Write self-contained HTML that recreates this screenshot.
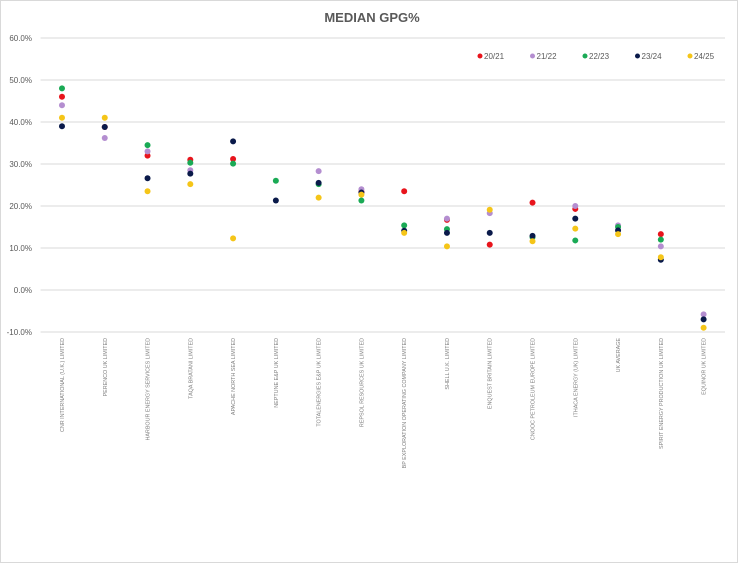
<!DOCTYPE html>
<html><head><meta charset="utf-8"><style>
html,body{margin:0;padding:0;background:#fff;}
svg{display:block;font-family:"Liberation Sans",sans-serif;}
</style></head><body>
<svg id="chart" width="744" height="564" viewBox="0 0 744 564">
<rect x="0.5" y="0.5" width="737" height="562" fill="#fff" stroke="#d9d9d9"/>
<text x="372" y="22" text-anchor="middle" font-size="13" font-weight="bold" fill="#595959">MEDIAN GPG%</text>
<g id="grid"></g><g id="yticks"></g><g id="xlabels"></g><g id="points"></g><g id="legend"></g>
</svg>
<script>
const categories=["CNR INTERNATIONAL (U.K.) LIMITED","PERENCO UK LIMITED","HARBOUR ENERGY SERVICES LIMITED","TAQA BRATANI LIMITED","APACHE NORTH SEA LIMITED","NEPTUNE E&P UK LIMITED","TOTALENERGIES E&P UK LIMITED","REPSOL RESOURCES UK LIMITED","BP EXPLORATION OPERATING COMPANY LIMITED","SHELL U.K. LIMITED","ENQUEST BRITAIN LIMITED","CNOOC PETROLEUM EUROPE LIMITED","ITHACA ENERGY (UK) LIMITED","UK AVERAGE","SPIRIT ENERGY PRODUCTION UK LIMITED","EQUINOR UK LIMITED"];
const seriesNames=["20/21","21/22","22/23","23/24","24/25"];
const seriesColors=["#e8141c","#b48ed0","#1aaa55","#0a1a4a","#f5c518"];
const s2021=[46,38.8,32,31,31.2,null,null,23.4,23.5,16.7,10.8,20.8,19.3,null,13.3,null];
const s2122=[44,36.2,33,28.5,null,null,28.3,24,null,17,18.3,null,20,15.4,10.4,-5.8];
const s2223=[48,null,34.5,30.3,30.1,26,25.2,21.3,15.4,14.5,null,12.6,11.8,15,12,null];
const s2324=[39,38.8,26.6,27.7,35.4,21.3,25.5,23.2,14.1,13.6,13.6,12.9,17,14.2,7.2,-7];
const s2425=[41,41,23.5,25.2,12.3,null,22,22.7,13.6,10.4,19.1,11.6,14.6,13.3,7.8,-9];
const yTicks=[60,50,40,30,20,10,0,-10];
const allSeries=[s2021,s2122,s2223,s2324,s2425];
const NS="http://www.w3.org/2000/svg";
const plotL=40.6,plotR=725,y0=290,pxPer=4.2;
const yPos=v=>y0-v*pxPer;
const band=(plotR-plotL)/categories.length;
const xPos=i=>plotL+band*(i+0.5);
function mk(t,parent,attrs){const e=document.createElementNS(NS,t);for(const k in attrs)e.setAttribute(k,attrs[k]);document.getElementById(parent).appendChild(e);return e;}
yTicks.forEach(v=>{
 const l=mk('line','grid',{x1:plotL,x2:plotR,y1:yPos(v),y2:yPos(v),stroke:'#d9d9d9','stroke-width':1});
 
 
 const t=mk('text','yticks',{x:32,y:yPos(v)+3,'text-anchor':'end','font-size':8,fill:'#595959'});
 t.textContent=v.toFixed(1)+'%';
 
 
});
categories.forEach((c,i)=>{
 const x=xPos(i)+2,y=338;
 const t=mk('text','xlabels',{x:x,y:y,transform:`rotate(-90 ${x} ${y})`,'text-anchor':'end','font-size':5.4,fill:'#7f7f7f'});
 t.textContent=c;
 
 
});
allSeries.forEach((arr,si)=>{
 arr.forEach((v,i)=>{
  if(v===null)return;
  const p=mk('circle','points',{cx:xPos(i),cy:yPos(v),r:3,fill:seriesColors[si]});
  
  
 });
});
seriesNames.forEach((n,si)=>{
 const lx=480+si*52.5;
 const d=mk('circle','legend',{cx:lx,cy:56,r:2.5,fill:seriesColors[si]});
 
 
 const t=mk('text','legend',{x:lx+4,y:59,'font-size':8,fill:'#595959'});
 t.textContent=n;
 
 
});
</script>
</body></html>
